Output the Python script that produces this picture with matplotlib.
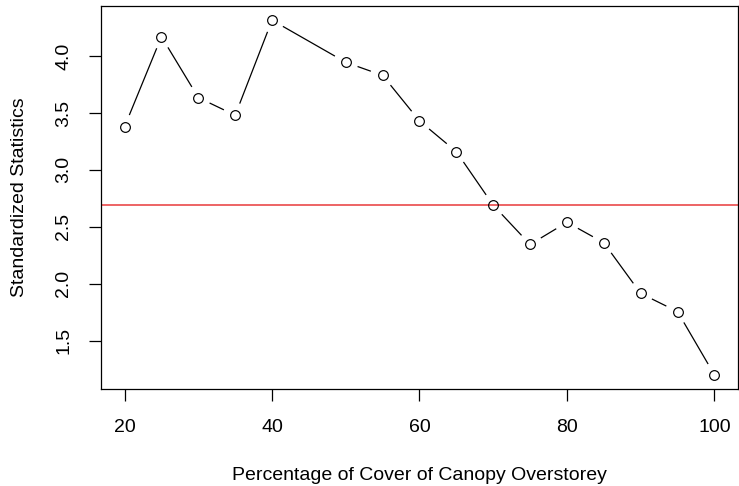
import matplotlib
matplotlib.use('Agg')
import matplotlib.pyplot as plt
import numpy as np

# Datos
cover = [20, 25, 30, 35, 40, 50, 55, 60, 65, 70, 75, 80, 85, 90, 95, 100]
stats = [3.38, 4.17, 3.635, 3.48, 4.315, 3.945, 3.83, 3.43, 3.16, 2.69,
         2.345, 2.54, 2.36, 1.915, 1.755, 1.20]
threshold = 2.695

plt.rcParams['font.family'] = ['Liberation Sans', 'DejaVu Sans']

fig = plt.figure(figsize=(7.39, 4.86), dpi=100)
ax = fig.add_axes([101 / 739, 97 / 486, 637 / 739, 383 / 486])

# Rango estilo R (4% extra)
xr = max(cover) - min(cover)
yr = max(stats) - min(stats)
ax.set_xlim(min(cover) - 0.04 * xr, max(cover) + 0.04 * xr)
ax.set_ylim(min(stats) - 0.04 * yr, max(stats) + 0.04 * yr)

# Línea roja horizontal
ax.axhline(threshold, color='#e8393a', lw=1.1, zorder=1)

# Segmentos con hueco alrededor de los puntos (type = "b")
fig.canvas.draw()
pts = ax.transData.transform(np.column_stack([cover, stats]))
gap = 12.5
for p0, p1 in zip(pts[:-1], pts[1:]):
    d = p1 - p0
    dist = np.hypot(*d)
    if dist <= 2 * gap:
        continue
    u = d / dist
    a = ax.transData.inverted().transform([p0 + u * gap, p1 - u * gap])
    ax.plot(a[:, 0], a[:, 1], color='black', lw=0.9, solid_capstyle='butt', zorder=2)

ax.plot(cover, stats, linestyle='none', marker='o', markersize=7,
        markerfacecolor='none', markeredgecolor='black', markeredgewidth=0.85, zorder=3)

ax.set_xticks([20, 40, 60, 80, 100])
ax.set_yticks([1.5, 2.0, 2.5, 3.0, 3.5, 4.0])
ax.set_yticklabels(['1.5', '2.0', '2.5', '3.0', '3.5', '4.0'], rotation=90, va='center')
ax.tick_params(length=8.6, width=0.9, labelsize=14)
ax.tick_params(axis='x', pad=13)
ax.tick_params(axis='y', pad=12)
for s in ax.spines.values():
    s.set_linewidth(0.9)

ax.set_xlabel('Percentage of Cover of Canopy Overstorey', fontsize=14, labelpad=22)
ax.set_ylabel('Standardized Statistics', fontsize=14, labelpad=20)

fig.savefig('out.png', dpi=100)
